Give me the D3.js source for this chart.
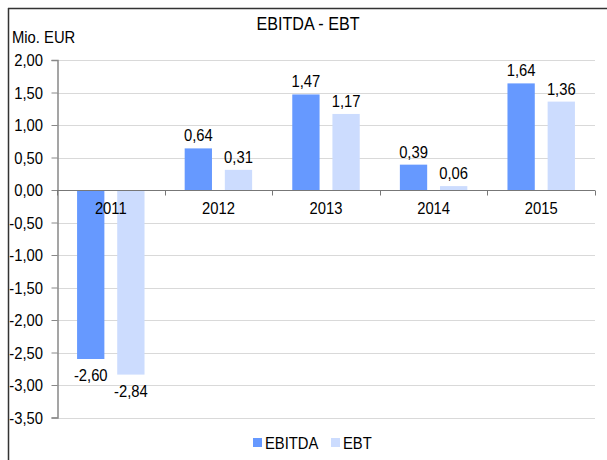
<!DOCTYPE html>
<html>
<head>
<meta charset="utf-8">
<script src="https://cdn.jsdelivr.net/npm/d3@7"></script>
<style>
  body { margin: 0; background: #fff; }
  text { font-family: "Liberation Sans", Arial, sans-serif; fill: #000; }
</style>
</head>
<body>
<div id="chart"></div>
<script>
const years = ["2011", "2012", "2013", "2014", "2015"];
const seriesNames = ["EBITDA", "EBT"];
const ebitda = [-2.60, 0.64, 1.47, 0.39, 1.64];
const ebt = [-2.84, 0.31, 1.17, 0.06, 1.36];
const yTicks = [2, 1.5, 1, 0.5, 0, -0.5, -1, -1.5, -2, -2.5, -3, -3.5];

const width = 607, height = 460;
const colors = ["#6699ff", "#ccdcfe"];
const fmt = v => d3.format(".2f")(v).replace(".", ",").replace("−", "-");

const svg = d3.select("#chart").append("svg")
    .attr("width", width)
    .attr("height", height);

// narrow-looking text: place with translate, squeeze horizontally
function label(parent, x, y, str, size, anchor, sx) {
    return parent.append("text")
        .attr("transform", `translate(${x},${y}) scale(${sx || 0.87},1)`)
        .attr("text-anchor", anchor || "start")
        .style("font-size", size + "px")
        .text(str);
}

// outer frame (only top and left visible)
svg.append("line").attr("x1", 8).attr("x2", width).attr("y1", 8.5).attr("y2", 8.5)
    .attr("stroke", "#333").attr("stroke-width", 1.5);
svg.append("line").attr("x1", 8.5).attr("x2", 8.5).attr("y1", 8).attr("y2", height)
    .attr("stroke", "#333").attr("stroke-width", 1.5);

const left = 57, right = 595;
const y = d3.scaleLinear().domain([-3.5, 2]).range([417.5, 60]);
const x = d3.scaleBand().domain(years).range([left, right]);
const xs = d3.scaleBand().domain(seriesNames).range([0, x.bandwidth()])
    .paddingInner(0.32).paddingOuter(0.5);

// gridlines
svg.append("g").selectAll("line").data(yTicks).enter().append("line")
    .attr("x1", left).attr("x2", right)
    .attr("y1", d => Math.round(y(d)) + 0.5).attr("y2", d => Math.round(y(d)) + 0.5)
    .attr("stroke", "#d9d9d9");

// y axis
const yAxis = svg.append("g").attr("transform", `translate(${left + 0.5},0)`)
    .call(d3.axisLeft(y).tickValues(yTicks).tickFormat("").tickSize(6));
yAxis.select(".domain").attr("stroke", "#888").attr("stroke-width", 1.5);
yAxis.selectAll(".tick line").attr("stroke", "#888");
yTicks.forEach(t => label(svg, 43, y(t) + 6, fmt(t), 17, "end"));

// bars
const data = years.map((yr, i) => ({ year: yr, vals: [ebitda[i], ebt[i]] }));
const groups = svg.append("g").selectAll("g").data(data).enter().append("g")
    .attr("transform", d => `translate(${x(d.year)},0)`);

groups.selectAll("rect").data(d => d.vals.map((v, j) => ({ name: seriesNames[j], v, j })))
    .enter().append("rect")
    .attr("x", d => xs(d.name))
    .attr("width", xs.bandwidth())
    .attr("y", d => y(Math.max(0, d.v)))
    .attr("height", d => Math.abs(y(d.v) - y(0)))
    .attr("fill", d => colors[d.j]);

// x axis at zero
const xAxis = svg.append("g").attr("transform", `translate(0,${Math.round(y(0)) + 0.5})`);
xAxis.append("line").attr("x1", left).attr("x2", right).attr("stroke", "#777").attr("stroke-width", 1.2);
xAxis.selectAll(".tk").data(years.concat(["end"])).enter().append("line")
    .attr("x1", (d, i) => Math.round(left + i * x.step()) + 0.5)
    .attr("x2", (d, i) => Math.round(left + i * x.step()) + 0.5)
    .attr("y1", 0).attr("y2", 5)
    .attr("stroke", "#777");
years.forEach(yr => label(svg, x(yr) + x.bandwidth() / 2, y(0) + 24, yr, 17, "middle"));

// value labels
data.forEach(d => {
    d.vals.forEach((v, j) => {
        const cx = x(d.year) + xs(seriesNames[j]) + xs.bandwidth() / 2;
        const ty = v >= 0 ? y(v) - 7 : y(v) + 22;
        label(svg, cx, ty, fmt(v), 17, "middle");
    });
});

// title and unit
label(svg, 308, 30, "EBITDA - EBT", 19, "middle", 0.85);
label(svg, 12, 43, "Mio. EUR", 17, "start");

// legend
const legend = svg.append("g").attr("transform", "translate(253,438)");
const lx = [0, 78];
seriesNames.forEach((n, i) => {
    legend.append("rect").attr("x", lx[i]).attr("y", 0).attr("width", 9).attr("height", 9)
        .attr("fill", colors[i]);
    label(legend, lx[i] + 12, 11, n, 17, "start");
});
</script>
</body>
</html>
